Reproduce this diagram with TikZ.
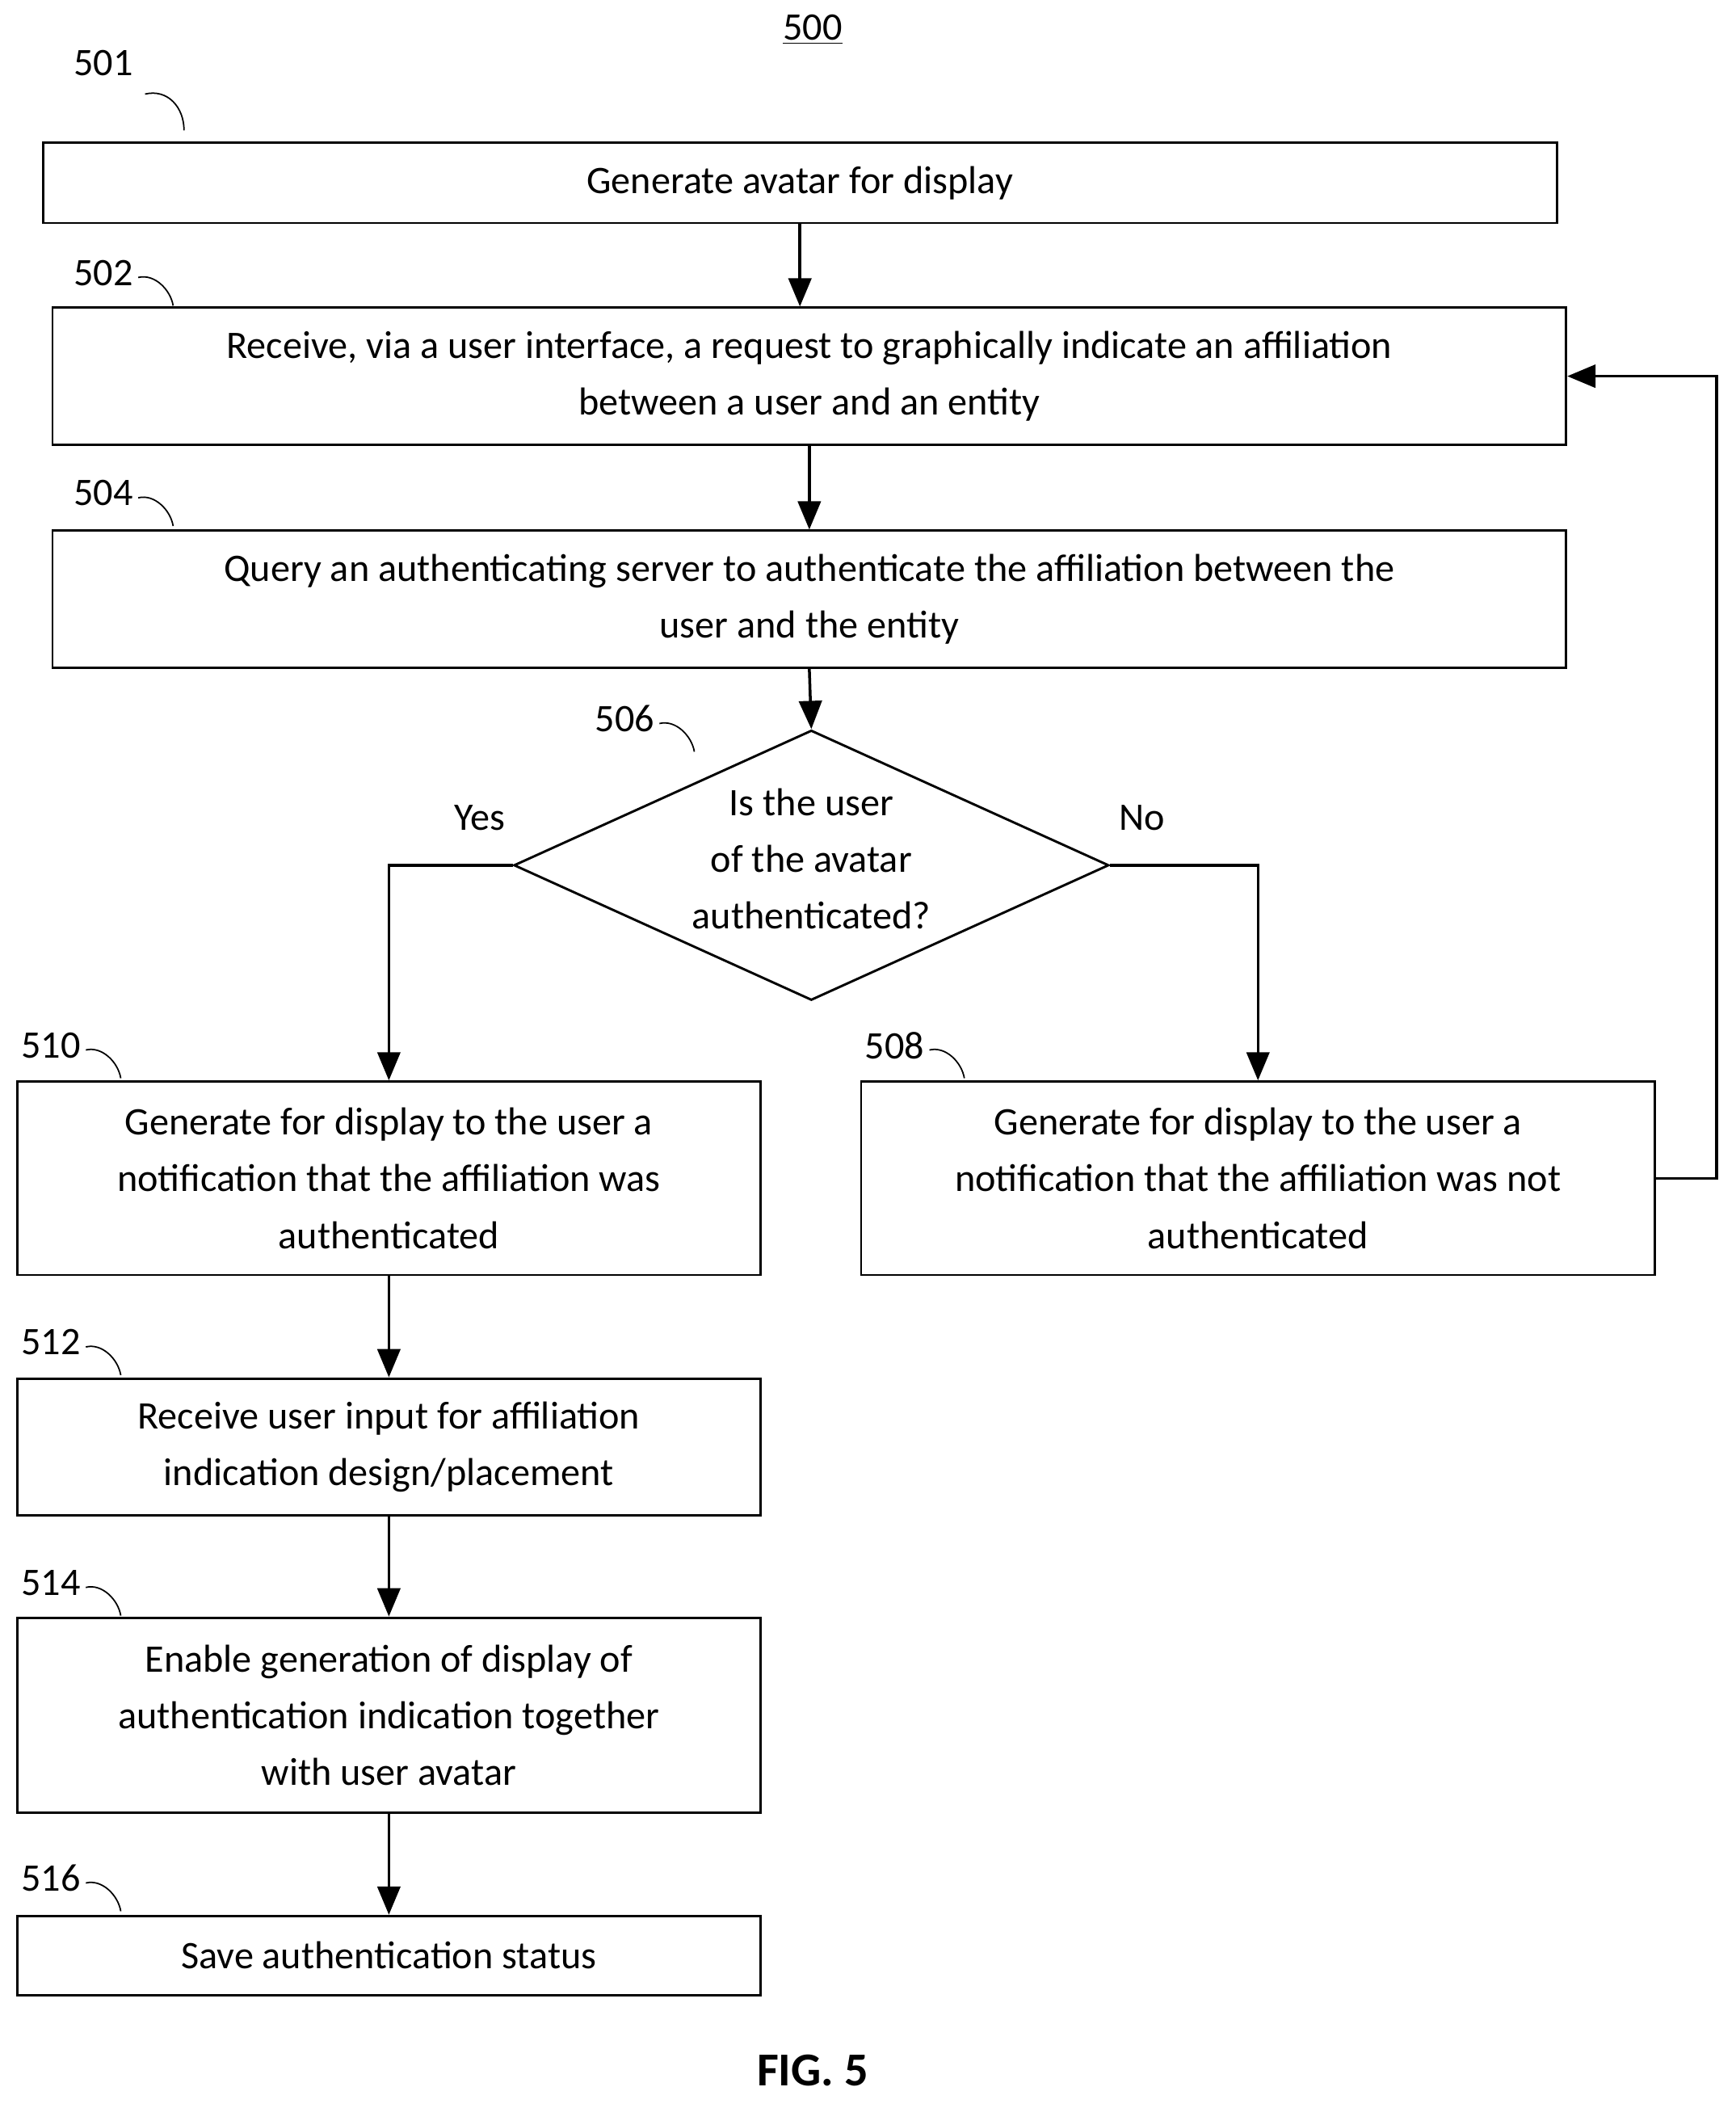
\documentclass[tikz,border=0pt]{standalone}
\usepackage{fontspec}
\setmainfont{Carlito}
\usepackage{tikz}
\usetikzlibrary{arrows.meta,shapes.geometric}
\tikzset{
    stepbox/.style={draw=black, line width=1pt, inner sep=0pt, align=center, font=\fontsize{16.5}{24}\selectfont},
    decision/.style={diamond, draw=black, line width=1pt, inner sep=0pt, minimum width=8.86cm, minimum height=4.02cm},
    txt/.style={align=center, inner sep=0pt, font=\fontsize{16.5}{24}\selectfont},
    flow/.style={line width=1.2pt, -{Triangle[length=0.42cm,width=0.34cm]}},
    leader/.style={line width=0.6pt}
}

\begin{document}
\begin{tikzpicture}[x=0.02cm,y=-0.02cm]
    \useasboundingbox (0,0) rectangle (1292,1569);
    % title
    \node[txt] (title) at (605,22) {\underline{500}};
    % boxes
    \node[stepbox, minimum width=22.54cm, minimum height=1.2cm] (b501) at (595.5,136) {Generate avatar for display};
    \node[stepbox, minimum width=22.54cm, minimum height=2.04cm] (b502) at (602.5,280) {Receive, via a user interface, a request to graphically indicate an affiliation\\between a user and an entity};
    \node[stepbox, minimum width=22.54cm, minimum height=2.04cm] (b504) at (602.5,446) {Query an authenticating server to authenticate the affiliation between the\\user and the entity};
    \node[decision] (d506) at (604,644) {};
    \node[txt] (t506) at (604,639) {Is the user\\of the avatar\\authenticated?};
    \node[stepbox, minimum width=11.06cm, minimum height=2.88cm] (b510) at (289.5,877) {Generate for display to the user a\\notification that the affiliation was\\authenticated};
    \node[stepbox, minimum width=11.82cm, minimum height=2.88cm] (b508) at (936.5,877) {Generate for display to the user a\\notification that the affiliation was not\\authenticated};
    \node[stepbox, minimum width=11.06cm, minimum height=2.04cm] (b512) at (289.5,1077) {Receive user input for affiliation\\indication design/placement};
    \node[stepbox, minimum width=11.06cm, minimum height=2.9cm] (b514) at (289.5,1276.5) {Enable generation of display of\\authentication indication together\\with user avatar};
    \node[stepbox, minimum width=11.06cm, minimum height=1.18cm] (b516) at (289.5,1455.5) {Save authentication status};
    % branch labels
    \node[txt] (yes) at (357,609) {Yes};
    \node[txt] (no) at (850,609) {No};
    % step numbers
    \node[txt] (n501) at (77,47) {501};
    \node[txt] (n502) at (77,203) {502};
    \node[txt] (n504) at (77,367) {504};
    \node[txt] (n506) at (465,535) {506};
    \node[txt] (n510) at (38,778) {510};
    \node[txt] (n508) at (666,778) {508};
    \node[txt] (n512) at (38,999) {512};
    \node[txt] (n514) at (38,1178) {514};
    \node[txt] (n516) at (38,1398) {516};
    \draw[leader] (108,70) .. controls (125,66) and (137,80) .. (137,97);
    \foreach \n in {n502,n504,n506,n510,n508,n512,n514,n516}
        \draw[leader] ([xshift=2pt,yshift=-2pt]\n.east) .. controls +(12,-3) and +(-2,-12) .. +(26,21);
    % connectors
    \draw[flow] (b501.south) -- (b501.south |- b502.north);
    \draw[flow] (b502.south) -- (b504.north);
    \draw[flow] (b504.south) -- (d506.north);
    \draw[flow] (d506.west) -| (b510.north);
    \draw[flow] (d506.east) -| (b508.north);
    \draw[flow] (b508.east) -- ++(45,0) |- (b502.east);
    \draw[flow] (b510.south) -- (b512.north);
    \draw[flow] (b512.south) -- (b514.north);
    \draw[flow] (b514.south) -- (b516.north);
    % caption
    \node[font=\bfseries\fontsize{20}{24}\selectfont] (fig) at (605,1541) {FIG. 5};
\end{tikzpicture}
\end{document}
